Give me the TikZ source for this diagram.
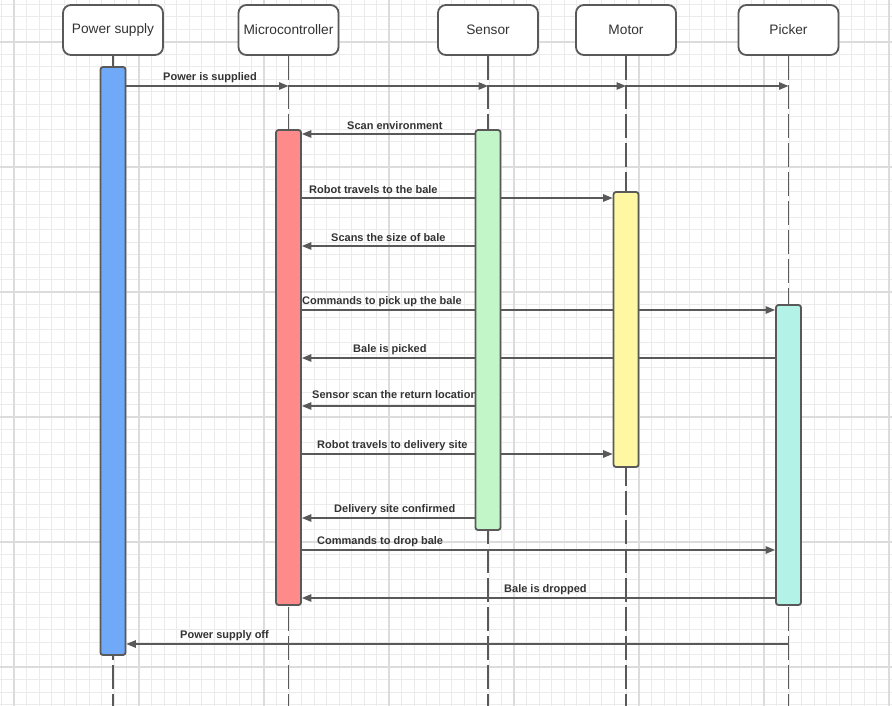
\documentclass[tikz,border=0pt]{standalone}
\usepackage{fontspec}
\setmainfont{Liberation Sans}
\usetikzlibrary{arrows.meta}
\pgfdeclarelayer{gridlayer}
\pgfdeclarelayer{lifelayer}
\pgfdeclarelayer{msglayer}
\pgfsetlayers{gridlayer,lifelayer,msglayer,main}
\definecolor{edge}{HTML}{595959}
\definecolor{txt}{HTML}{333333}
\definecolor{minorgrid}{HTML}{EBEBEB}
\definecolor{majorgrid}{HTML}{DCDCDC}
\definecolor{psfill}{HTML}{6FA9F8}
\definecolor{mcfill}{HTML}{FF8A8A}
\definecolor{snfill}{HTML}{C2F5C7}
\definecolor{mtfill}{HTML}{FFF7A1}
\definecolor{pkfill}{HTML}{B3F2E6}
\begin{document}
\begin{tikzpicture}[x=1pt,y=-1pt,
 header/.style={draw=edge, line width=1.8pt, fill=white, rounded corners=8pt, minimum width=100pt, minimum height=50pt, inner sep=0pt, font=\fontsize{13.7}{16}\selectfont, text=txt},
 bar/.style={draw=edge, line width=1.8pt, rounded corners=2.5pt, minimum width=25pt, inner sep=0pt},
 lifeline/.style={draw=edge, line width=1.3pt, dash pattern=on 24pt off 5pt},
 msg/.style={draw=edge, line width=1.3pt, -{Triangle[length=9.5pt,width=7.5pt]}},
 msglabel/.style={font=\bfseries\fontsize{11}{13}\selectfont, text=txt, inner sep=0pt, anchor=west, yshift=-1.5pt}]
\useasboundingbox (0,0) rectangle (892,706);
\begin{pgfonlayer}{gridlayer}
\fill[white] (0,0) rectangle (892,706);
\foreach \i in {0,...,71} \draw[minorgrid, line width=1pt] ({1.5+12.5*\i},0) -- ++(0,706);
\foreach \j in {0,...,56} \draw[minorgrid, line width=1pt] (0,{4.5+12.5*\j}) -- ++(892,0);
\foreach \i in {0,...,7} \draw[majorgrid, line width=2pt] ({14+125*\i},0) -- ++(0,706);
\foreach \j in {0,...,5} \draw[majorgrid, line width=2pt] (0,{42+125*\j}) -- ++(892,0);
\end{pgfonlayer}
% headers
\node[header] (ps) at (113,30) {Power supply};
\node[header] (mc) at (288.5,30) {Microcontroller};
\node[header] (sn) at (488,30) {Sensor};
\node[header] (mt) at (626,30) {Motor};
\node[header] (pk) at (788.5,30) {Picker};
\coordinate (bottom) at (0,706);
% activation bars
\node[bar, fill=psfill, minimum height=588pt] (psbar) at (113,361) {};
\node[bar, fill=mcfill, minimum height=475pt] (mcbar) at (288.5,367.5) {};
\node[bar, fill=snfill, minimum height=400pt] (snbar) at (488,330) {};
\node[bar, fill=mtfill, minimum height=275pt] (mtbar) at (626,329.5) {};
\node[bar, fill=pkfill, minimum height=300pt] (pkbar) at (788.5,455) {};
% lifelines
\begin{pgfonlayer}{lifelayer}
\foreach \n in {ps,mc,sn,mt,pk} \draw[lifeline] (\n.south) -- (\n.south |- bottom);
\end{pgfonlayer}
% rows
\coordinate (r1) at (0,86);
\coordinate (r2) at (0,134);
\coordinate (r3) at (0,198);
\coordinate (r4) at (0,246);
\coordinate (r5) at (0,310);
\coordinate (r6) at (0,358);
\coordinate (r7) at (0,406);
\coordinate (r8) at (0,454);
\coordinate (r9) at (0,518);
\coordinate (r10) at (0,550);
\coordinate (r11) at (0,598);
\coordinate (r12) at (0,644);
\begin{pgfonlayer}{msglayer}
\draw[msg] (psbar.east |- r1) -- (mc.south |- r1);
\draw[msg] (mc.south |- r1) -- (sn.south |- r1);
\draw[msg] (sn.south |- r1) -- (mt.south |- r1);
\draw[msg] (mt.south |- r1) -- (pk.south |- r1);
\node[msglabel] (l1) at (163,76) {Power is supplied};
\draw[msg] (snbar.west |- r2) -- (mcbar.east |- r2);
\node[msglabel] (l2) at (347,124) {Scan environment};
\draw[msg] (mcbar.east |- r3) -- (mtbar.west |- r3);
\node[msglabel] (l3) at (309,188) {Robot travels to the bale};
\draw[msg] (snbar.west |- r4) -- (mcbar.east |- r4);
\node[msglabel] (l4) at (331,236) {Scans the size of bale};
\draw[msg] (mcbar.east |- r5) -- (pkbar.west |- r5);
\node[msglabel] (l5) at (302,300) {Commands to pick up the bale};
\draw[msg] (pkbar.west |- r6) -- (mcbar.east |- r6);
\node[msglabel] (l6) at (353,348) {Bale is picked};
\draw[msg] (snbar.west |- r7) -- (mcbar.east |- r7);
\node[msglabel] (l7) at (312,393) {Sensor scan the return location};
\draw[msg] (mcbar.east |- r8) -- (mtbar.west |- r8);
\node[msglabel] (l8) at (317,444) {Robot travels to delivery site};
\draw[msg] (snbar.west |- r9) -- (mcbar.east |- r9);
\node[msglabel] (l9) at (334,508) {Delivery site confirmed};
\draw[msg] (mcbar.east |- r10) -- (pkbar.west |- r10);
\node[msglabel] (l10) at (317,540) {Commands to drop bale};
\draw[msg] (pkbar.west |- r11) -- (mcbar.east |- r11);
\node[msglabel] (l11) at (504,588) {Bale is dropped};
\draw[msg] (pk.south |- r12) -- (psbar.east |- r12);
\node[msglabel] (l12) at (180,634) {Power supply off};
\end{pgfonlayer}
\end{tikzpicture}
\end{document}
